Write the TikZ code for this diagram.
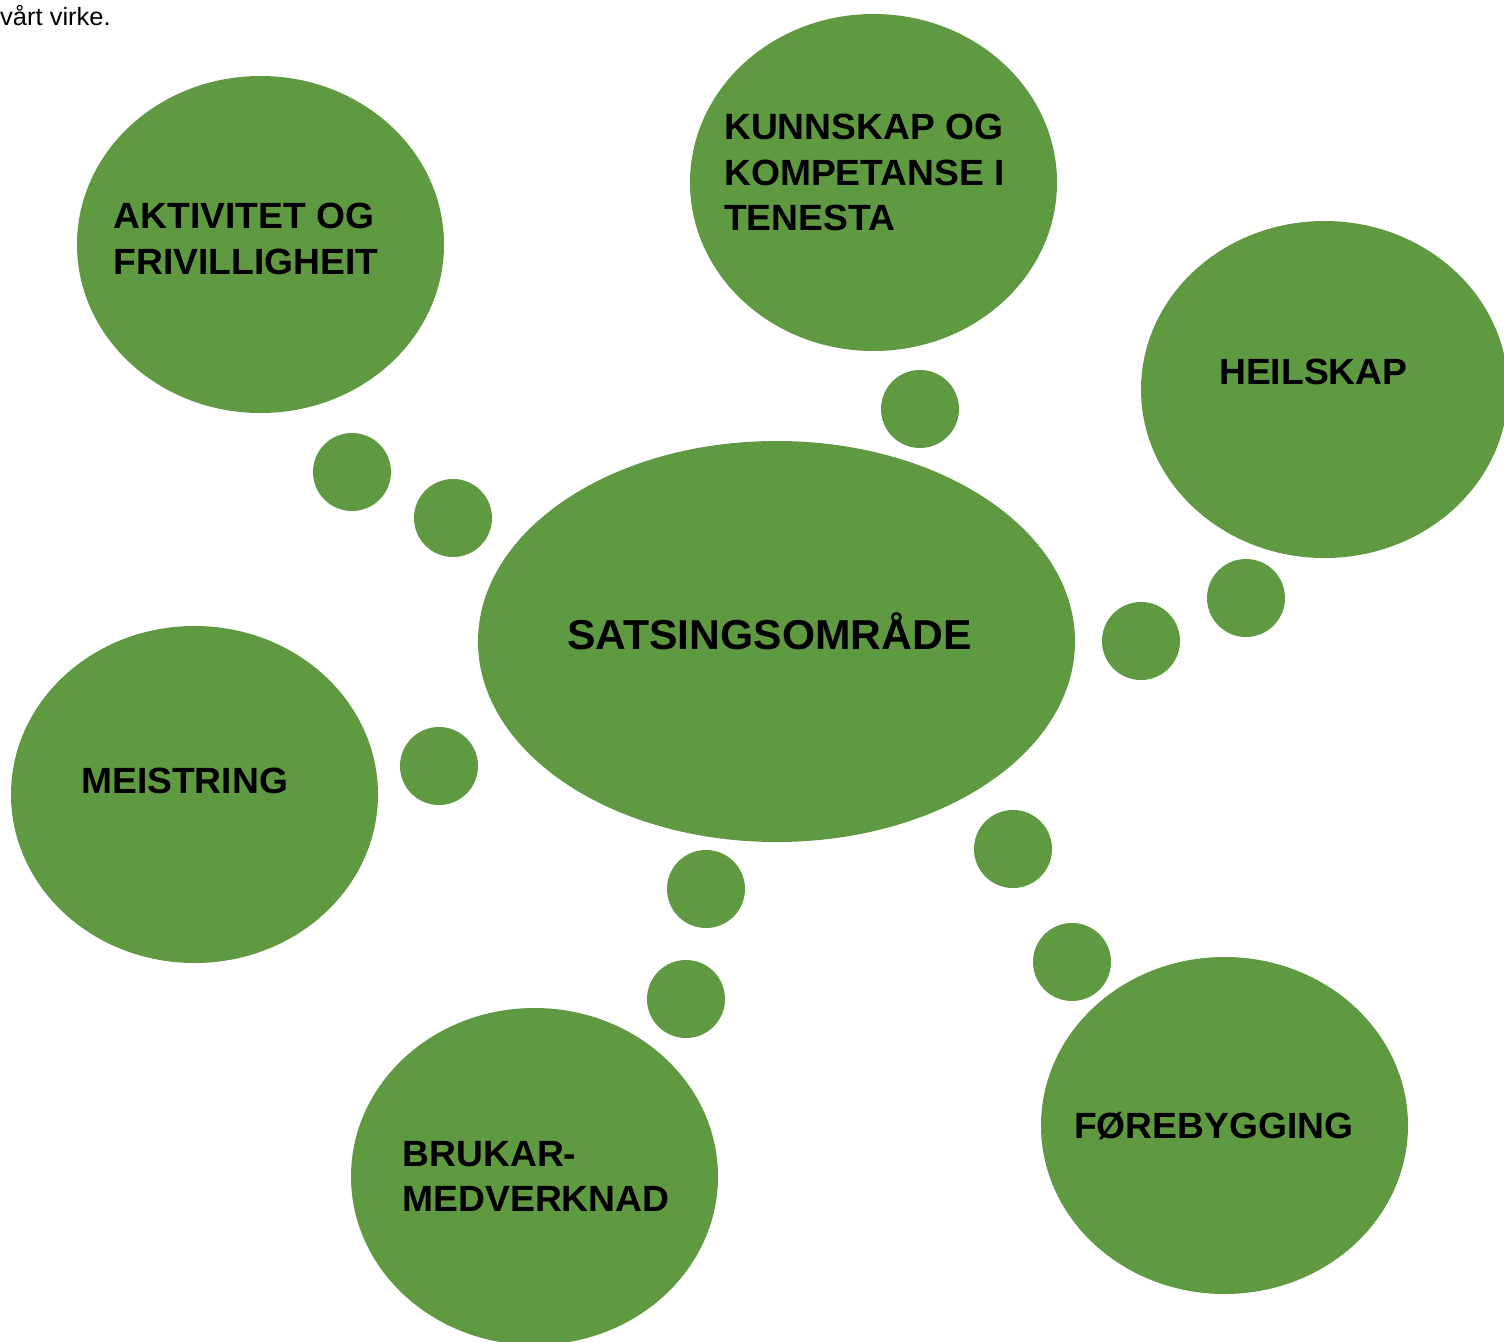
\documentclass[tikz,border=0pt]{standalone}
\usepackage{fontspec}
\setmainfont{Liberation Sans}
\newfontfamily\lblfont{Liberation Sans}[FakeStretch=1.02]
\usetikzlibrary{shapes.geometric}
\definecolor{bubblegreen}{HTML}{5F9942}
\newcommand\mylines[1]{\begin{tabular}[t]{@{}l@{}}#1\end{tabular}}
\begin{document}
\begin{tikzpicture}[x=1pt,y=-1pt,
  bubble/.style={ellipse, fill=bubblegreen, draw=none, inner sep=0pt,
                 minimum width=367pt, minimum height=337pt},
  dot/.style={circle, fill=bubblegreen, draw=none, inner sep=0pt, minimum size=78pt},
  lbl/.style={anchor=base west, inner sep=0pt, text=black,
              font=\lblfont\bfseries\fontsize{36.5}{45.5}\selectfont},
  biglbl/.style={lbl, font=\lblfont\bfseries\fontsize{41.8}{46}\selectfont}]
\useasboundingbox (0,0) rectangle (1504,1341);
\clip (0,0) rectangle (1504,1341);
\fill[white] (0,0) rectangle (1504,1341);

% bubbles
\node[bubble, minimum width=597pt, minimum height=401pt] (centre) at (776.5,641.5) {};
\node[bubble] (akt) at (260.5,244.5) {};
\node[bubble] (kun) at (873.5,182.5) {};
\node[bubble] (hei) at (1324.5,389.5) {};
\node[bubble] (mei) at (194.5,794.5) {};
\node[bubble] (bru) at (534.5,1176.5) {};
\node[bubble] (for) at (1224.5,1125.5) {};

% small dots
\node[dot] (d1) at (352,472) {};
\node[dot] (d2) at (453,518) {};
\node[dot] (d3) at (920,409) {};
\node[dot] (d4) at (1246,598) {};
\node[dot] (d5) at (1141,641) {};
\node[dot] (d6) at (439,766) {};
\node[dot] (d7) at (706,889) {};
\node[dot] (d8) at (686,999) {};
\node[dot] (d9) at (1013,849) {};
\node[dot] (d10) at (1072,962) {};

% labels
\node[anchor=base west, inner sep=0pt, font=\lblfont\fontsize{25}{30}\selectfont] (top) at (0,25) {vårt virke.};
\node[lbl] (t-akt) at (113.5,228.5) {\mylines{AKTIVITET OG\\FRIVILLIGHEIT}};
\node[lbl] (t-kun) at (724,139.5) {\mylines{KUNNSKAP OG\\KOMPETANSE I\\TENESTA}};
\node[lbl] (t-hei) at (1219,384.5) {HEILSKAP};
\node[biglbl] (t-cen) at (567,649) {SATSINGSOMRÅDE};
\node[lbl] (t-mei) at (81,793) {MEISTRING};
\node[lbl] (t-bru) at (402.5,1166) {\mylines{BRUKAR-\\MEDVERKNAD}};
\node[lbl] (t-for) at (1074,1138) {FØREBYGGING};
\end{tikzpicture}
\end{document}
